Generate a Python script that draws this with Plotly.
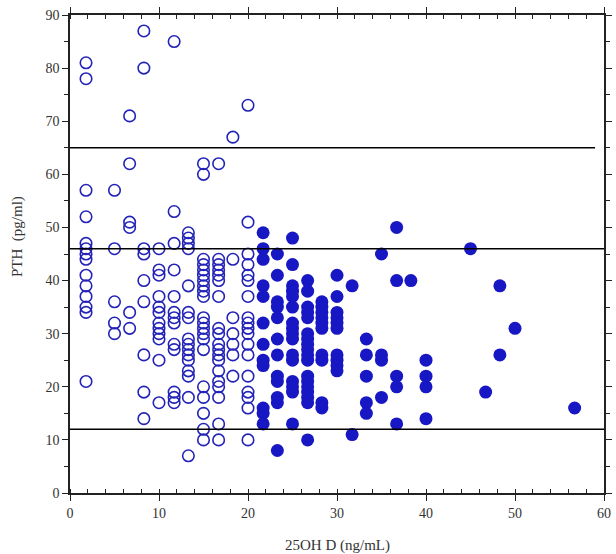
import plotly.graph_objects as go

# 25OH D column values (ng/mL) and PTH values (pg/ml) for each column
open_x_levels = [1.8, 5.0, 6.7, 8.3, 10.0, 11.7, 13.3, 15.0, 16.7, 18.3, 20.0]
open_pth = [
    [81, 78, 57, 52, 47, 46, 45, 44, 41, 39, 37, 35, 34, 21],
    [57, 46, 36, 32, 30],
    [71, 62, 51, 50, 34, 31],
    [87, 80, 46, 45, 40, 36, 26, 19, 14],
    [46, 42, 41, 37, 35, 34, 32, 31, 30, 29, 25, 17],
    [85, 53, 47, 42, 37, 34, 33, 32, 28, 27, 19, 18, 17],
    [49, 48, 47, 46, 39, 34, 33, 29, 28, 27, 26, 25, 23, 22, 18, 7],
    [62, 60, 44, 43, 42, 41, 40, 39, 38, 37, 33, 32, 31, 30, 29, 27, 20, 18, 15, 12, 10],
    [62, 44, 43, 42, 41, 40, 37, 31, 30, 28, 27, 26, 25, 23, 21, 20, 18, 13, 10],
    [67, 44, 33, 30, 28, 26, 22],
    [73, 51, 45, 43, 41, 40, 37, 33, 32, 31, 30, 28, 26, 22, 19, 18, 16, 10],
]

filled_x_levels = [21.7, 23.3, 25.0, 26.7, 28.3, 30.0, 31.7, 33.3, 35.0, 36.7,
                   38.3, 40.0, 45.0, 46.7, 48.3, 50.0, 56.7]
filled_pth = [
    [49, 46, 44, 39, 37, 32, 28, 25, 24, 16, 15, 13],
    [45, 41, 36, 35, 33, 29, 26, 22, 21, 18, 17, 8],
    [48, 43, 39, 38, 37, 35, 32, 31, 30, 29, 26, 25, 21, 20, 19, 13],
    [40, 38, 35, 34, 33, 30, 29, 28, 27, 26, 25, 22, 21, 20, 19, 18, 17, 10],
    [36, 35, 34, 33, 32, 31, 26, 25, 17, 16],
    [41, 37, 34, 33, 32, 31, 26, 25, 24, 23],
    [39, 11],
    [29, 26, 22, 17, 15],
    [45, 26, 25, 18],
    [50, 40, 22, 20, 13],
    [40],
    [25, 22, 20, 14],
    [46],
    [19],
    [39, 26],
    [31],
    [16],
]

# reference lines (PTH value, x end)
ref_levels = [65, 46, 12]
ref_x_end = [59, 60, 60]

x_ticks = [0, 10, 20, 30, 40, 50, 60]
y_ticks = [0, 10, 20, 30, 40, 50, 60, 70, 80, 90]


def flatten(levels, groups):
    xs, ys = [], []
    for xv, g in zip(levels, groups):
        for yv in g:
            xs.append(xv)
            ys.append(yv)
    return xs, ys


ox, oy = flatten(open_x_levels, open_pth)
fx, fy = flatten(filled_x_levels, filled_pth)

blue = "#1717c4"
fig = go.Figure()
fig.add_trace(go.Scatter(
    x=ox, y=oy, mode="markers",
    marker=dict(symbol="circle-open", size=11.5, color="#2323b8",
                line=dict(width=1.6, color="#2323b8")),
    showlegend=False, hoverinfo="x+y"))
fig.add_trace(go.Scatter(
    x=fx, y=fy, mode="markers",
    marker=dict(symbol="circle", size=13, color=blue,
                line=dict(width=0)),
    showlegend=False, hoverinfo="x+y"))

for lv, xe in zip(ref_levels, ref_x_end):
    fig.add_shape(type="line", xref="x", yref="y", x0=0, x1=xe, y0=lv, y1=lv,
                  line=dict(color="black", width=1.6), layer="above")

font_serif = "Liberation Serif, Times New Roman, serif"

fig.update_xaxes(
    range=[0, 60], tickvals=x_ticks, ticktext=[str(v) for v in x_ticks],
    showgrid=False, zeroline=False, showline=True, linecolor="#222",
    linewidth=1.6, mirror="ticks", ticks="outside", ticklen=6, tickwidth=1.3,
    tickcolor="#222", automargin=False,
    minor=dict(dtick=2, ticks="inside", ticklen=4, tickwidth=1.2, tickcolor="#222",
               showgrid=False),
    tickfont=dict(family=font_serif, size=14, color="#333"),
)
fig.update_yaxes(
    range=[0, 90], tickvals=y_ticks, ticktext=[str(v) for v in y_ticks],
    showgrid=False, zeroline=False, showline=True, linecolor="#222",
    linewidth=1.6, mirror="ticks", ticks="outside", ticklen=6, tickwidth=1.3,
    tickcolor="#222", automargin=False,
    minor=dict(dtick=5, ticks="outside", ticklen=4, tickwidth=1.2, tickcolor="#222",
               showgrid=False),
    tickfont=dict(family=font_serif, size=14, color="#333"),
)

fig.add_annotation(text="PTH  (pg/ml)", xref="paper", yref="paper",
                   x=-0.097, y=0.536, textangle=-90, showarrow=False,
                   xanchor="center", yanchor="middle",
                   font=dict(family=font_serif, size=15, color="#333"))
fig.add_annotation(text="25OH D (ng/mL)", xref="paper", yref="paper",
                   x=0.5, y=-0.109, showarrow=False,
                   xanchor="center", yanchor="middle",
                   font=dict(family=font_serif, size=15, color="#333"))

fig.update_layout(
    width=616, height=554,
    margin=dict(l=70, r=12, t=15, b=61, autoexpand=False),
    plot_bgcolor="white", paper_bgcolor="white",
)

fig.write_html(
    "out.html",
    config={"displayModeBar": False},
    post_script="document.body.style.margin='0';document.body.style.overflow='hidden';",
)
